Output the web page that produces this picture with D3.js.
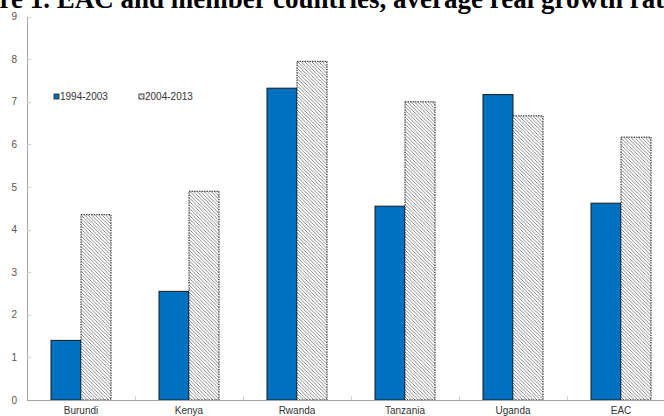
<!DOCTYPE html>
<html>
<head>
<meta charset="utf-8">
<script src="https://cdn.jsdelivr.net/npm/d3@7"></script>
<style>
  html, body { margin: 0; padding: 0; background: #fff; overflow: hidden; }
  svg { display: block; }
</style>
</head>
<body>
<svg id="chart" width="664" height="416"></svg>
<script>
const categories = ["Burundi", "Kenya", "Rwanda", "Tanzania", "Uganda", "EAC"];
const seriesNames = ["1994-2003", "2004-2013"];
const values1994 = [1.40, 2.55, 7.32, 4.55, 7.17, 4.62];
const values2004 = [4.35, 4.90, 7.95, 7.00, 6.67, 6.17];
const yTicks = [0, 1, 2, 3, 4, 5, 6, 7, 8, 9];
const titleText = "Figure 1. EAC and member countries, average real growth rates";

const svg = d3.select("#chart");
const defs = svg.append("defs");
const pat = defs.append("pattern")
  .attr("id", "hatch").attr("patternUnits", "userSpaceOnUse")
  .attr("width", 3.5).attr("height", 3.5);
pat.append("rect").attr("width", 3.5).attr("height", 3.5).attr("fill", "#fff");
pat.append("path")
  .attr("d", "M-1,-1 L4.5,4.5 M-1,2.5 L1,4.5 M2.5,-1 L4.5,1")
  .attr("stroke", "#555").attr("stroke-width", 0.7);

const x0 = 27, yBase = 400;
const x = d3.scaleBand().domain(categories).range([x0, x0 + 108 * categories.length]).padding(0);
const xs = d3.scaleBand().domain(seriesNames).range([24, 84]).padding(0);
const y = d3.scaleLinear().domain([0, 9]).range([yBase, 16.6]);

// title
svg.append("text")
  .attr("x", -53).attr("y", 8)
  .attr("font-family", "'Liberation Serif', 'Times New Roman', serif")
  .attr("font-weight", "bold").attr("font-size", 27)
  .attr("fill", "#000")
  .text(titleText);

// y axis
const yAxis = svg.append("g");
yAxis.append("line").attr("x1", x0 + 0.5).attr("x2", x0 + 0.5).attr("y1", y(9)).attr("y2", yBase)
  .attr("stroke", "#a6a6a6").attr("stroke-width", 1);
yAxis.selectAll("line.tick").data(yTicks).enter().append("line")
  .attr("class", "tick")
  .attr("x1", x0).attr("x2", x0 + 4)
  .attr("y1", d => Math.round(y(d)) + 0.5).attr("y2", d => Math.round(y(d)) + 0.5)
  .attr("stroke", "#cfcfcf");
yAxis.selectAll("text").data(yTicks).enter().append("text")
  .attr("x", 17).attr("y", d => y(d)).attr("dy", "0.35em")
  .attr("text-anchor", "end")
  .attr("font-family", "'Liberation Sans', Arial, sans-serif").attr("font-size", 10)
  .attr("fill", "#555")
  .text(d => d);

// bars
const groups = svg.selectAll("g.cat").data(categories).enter().append("g")
  .attr("class", "cat")
  .attr("transform", d => `translate(${x(d)},0)`);

groups.append("rect")
  .attr("x", xs("1994-2003"))
  .attr("y", (d, i) => y(values1994[i]))
  .attr("width", xs.bandwidth())
  .attr("height", (d, i) => yBase - y(values1994[i]))
  .attr("fill", "#0070c0").attr("stroke", "#1a1a1a").attr("stroke-width", 1);

groups.append("rect")
  .attr("x", xs("2004-2013"))
  .attr("y", (d, i) => y(values2004[i]))
  .attr("width", xs.bandwidth())
  .attr("height", (d, i) => yBase - y(values2004[i]))
  .attr("fill", "url(#hatch)").attr("stroke", "#222").attr("stroke-width", 1)
  .attr("stroke-dasharray", "1.5,1");

// x axis
svg.append("line").attr("x1", x0).attr("x2", 664).attr("y1", yBase + 0.5).attr("y2", yBase + 0.5)
  .attr("stroke", "#a6a6a6");
svg.selectAll("line.xtick").data(categories.slice(1)).enter().append("line")
  .attr("class", "xtick")
  .attr("x1", d => x(d) + 0.5).attr("x2", d => x(d) + 0.5)
  .attr("y1", yBase).attr("y2", yBase - 4)
  .attr("stroke", "#cfcfcf");
svg.selectAll("text.xlab").data(categories).enter().append("text")
  .attr("class", "xlab")
  .attr("x", d => x(d) + x.bandwidth() / 2).attr("y", 414)
  .attr("text-anchor", "middle")
  .attr("font-family", "'Liberation Sans', Arial, sans-serif").attr("font-size", 10)
  .attr("fill", "#333")
  .text(d => d);

// legend
const legend = svg.append("g");
const legX = [54, 139];
legend.selectAll("rect").data(seriesNames).enter().append("rect")
  .attr("x", (d, i) => legX[i]).attr("y", 94)
  .attr("width", 5).attr("height", 5)
  .attr("fill", (d, i) => i === 0 ? "#0070c0" : "url(#hatch)")
  .attr("stroke", "#222").attr("stroke-width", 0.8);
legend.selectAll("text").data(seriesNames).enter().append("text")
  .attr("x", (d, i) => legX[i] + 6).attr("y", 96.8).attr("dy", "0.35em")
  .attr("font-family", "'Liberation Sans', Arial, sans-serif").attr("font-size", 10)
  .attr("fill", "#333")
  .text(d => d);
</script>
</body>
</html>
